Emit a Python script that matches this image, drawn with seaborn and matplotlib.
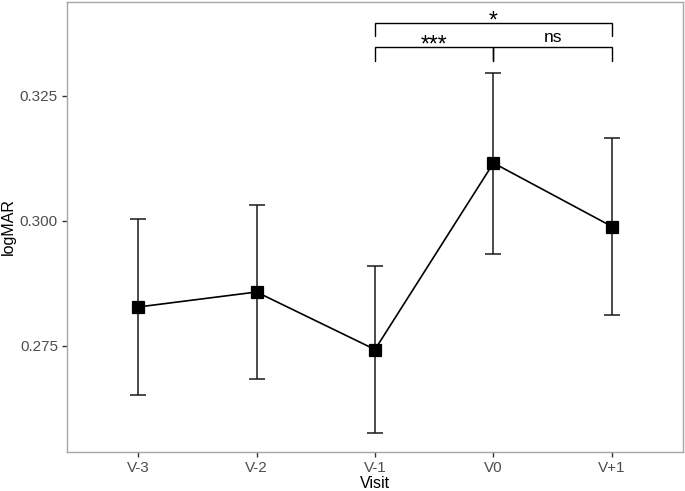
import numpy as np
import pandas as pd
import seaborn as sns
import matplotlib
matplotlib.use("Agg")
import matplotlib.pyplot as plt

# data
visits = ["V-3", "V-2", "V-1", "V0", "V+1"]
logmar_mean = [0.2828, 0.2858, 0.2743, 0.3116, 0.2989]
logmar_err = [0.0176, 0.0174, 0.0167, 0.0181, 0.0178]

# pairwise comparisons (group1, group2, label)
comparisons = [("V-1", "V0", "***"), ("V0", "V+1", "ns"), ("V-1", "V+1", "*")]

sns.set_theme(style="white")
plt.rcParams["font.family"] = ["Liberation Sans", "DejaVu Sans"]

df = pd.DataFrame({"Visit": visits, "logMAR": logmar_mean, "err": logmar_err})

fig = plt.figure(figsize=(6.85, 4.91), dpi=100)
ax = fig.add_axes([67 / 685, 39 / 491, 616 / 685, 450 / 491])

xpos = np.arange(len(visits))
ax.errorbar(xpos, df["logMAR"], yerr=df["err"], fmt="none", ecolor="#1a1a1a",
            elinewidth=1.1, capsize=6, capthick=1.1, zorder=2)
sns.pointplot(data=df, x="Visit", y="logMAR", order=visits, color="black",
              markers="s", markersize=9, linewidth=1.2, errorbar=None, ax=ax, zorder=3)

# significance brackets
px = 0.09 / 450  # data units per pixel
lvl_low, lvl_high = 0.3347, 0.3396
drop = 0.0027
for g1, g2, lab in comparisons:
    x1, x2 = visits.index(g1), visits.index(g2)
    y = lvl_high if (x2 - x1) > 1 else lvl_low
    ax.plot([x1, x1, x2, x2], [y - drop, y, y, y - drop], color="black", lw=1.0,
            solid_joinstyle="miter", zorder=4)
    if lab == "ns":
        ax.text((x1 + x2) / 2, y + 5.5 * px, lab, ha="center", va="baseline",
                fontsize=12.5, color="black")
    else:
        ax.text((x1 + x2) / 2, y - 4.5 * px, lab, ha="center", va="baseline",
                fontsize=16.5, color="black")

ax.set_xlim(-0.6, 4.6)
ax.set_ylim(0.2538, 0.3438)
ax.set_yticks([0.275, 0.300, 0.325])
ax.set_yticklabels(["0.275", "0.300", "0.325"])

for s in ax.spines.values():
    s.set_color("#a6a6a6")
    s.set_linewidth(1.0)
ax.tick_params(axis="both", which="major", length=3.5, width=1.0, color="#333333",
               labelsize=11, labelcolor="#4d4d4d", bottom=True, left=True, pad=3)
ax.set_xlabel("Visit", fontsize=11.5, color="black", labelpad=1)
ax.set_ylabel("logMAR", fontsize=11.5, color="black", labelpad=3)
ax.grid(False)

fig.savefig("out.png", dpi=100)
